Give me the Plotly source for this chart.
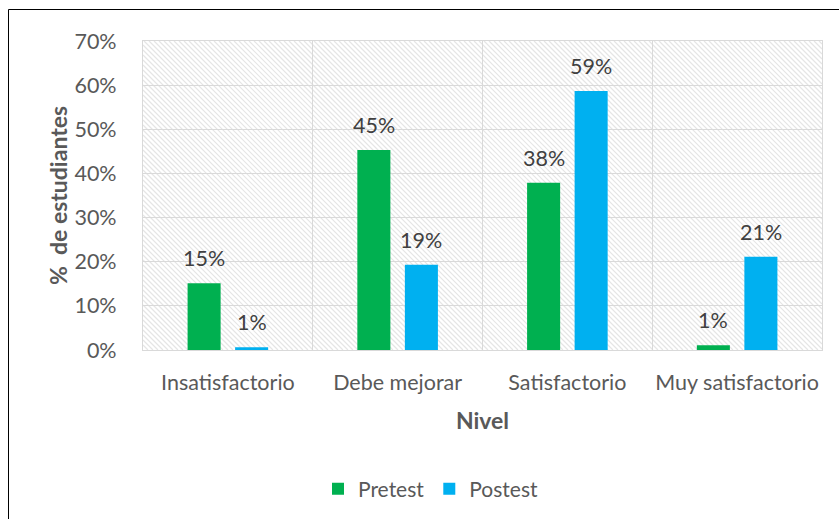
import plotly.graph_objects as go

categories = ["Insatisfactorio", "Debe mejorar", "Satisfactorio", "Muy satisfactorio"]
pretest = [15.1, 45.3, 37.9, 1.1]
postest = [0.6, 19.3, 58.7, 21.1]
series_names = ["Pretest", "Postest"]
series_colors = ["#00B050", "#00B0F0"]
y_ticks = [0, 10, 20, 30, 40, 50, 60, 70]
y_tick_labels = ["0%", "10%", "20%", "30%", "40%", "50%", "60%", "70%"]

FIG_W, FIG_H = 839, 519
ML, MR, MT, MB = 143, 17, 41, 169
PW = FIG_W - ML - MR
PH = FIG_H - MT - MB

FONT = "Lato"
TICK_COLOR = "#595959"
LABEL_COLOR = "#404040"

fig = go.Figure()
for name, vals, col in zip(series_names, [pretest, postest], series_colors):
    fig.add_trace(go.Bar(x=categories, y=vals, name=name, marker_color=col,
                         marker_line_width=0, hoverinfo="x+y"))

# data labels
offset_px = 23.77
for k, vals in enumerate([pretest, postest]):
    sh = -offset_px if k == 0 else offset_px
    for c, v in zip(categories, vals):
        fig.add_annotation(x=c, y=v, text=f"{round(v)}%", showarrow=False,
                           xshift=sh, yshift=25, yanchor="middle",
                           font=dict(family=FONT, size=21.5, color=LABEL_COLOR))

# hatched background (decorative diagonal lines)
step = 5
segs = []
c = -PH
while c <= PW:
    y0 = max(0, -c)
    y1 = min(PH, PW - c)
    if y1 > y0:
        x0 = c + y0
        x1 = c + y1
        segs.append(f"M{x0/PW:.5f},{1 - y0/PH:.5f}L{x1/PW:.5f},{1 - y1/PH:.5f}")
    c += step
fig.add_shape(type="path", xref="paper", yref="paper", path="".join(segs),
              line=dict(color="#e5e5e5", width=1.2), layer="below")

# outer chart border
fig.add_shape(type="rect", xref="paper", yref="paper",
              x0=(8.5 - ML) / PW, x1=(FIG_W + 6 - ML) / PW,
              y0=(PH + MT - (FIG_H + 6)) / PH, y1=(PH + MT - 9.5) / PH,
              line=dict(color="#000000", width=1), fillcolor="rgba(0,0,0,0)", layer="above")

fig.update_layout(
    width=FIG_W, height=FIG_H,
    margin=dict(l=ML, r=MR, t=MT, b=MB, autoexpand=False),
    paper_bgcolor="white", plot_bgcolor="white",
    barmode="group", bargap=0.44, bargroupgap=0.305,
    font=dict(family=FONT, size=21, color=TICK_COLOR),
    legend=dict(orientation="h", x=(431 - ML) / PW, xanchor="center",
                y=(PH + MT - 489) / PH, yanchor="middle",
                font=dict(family=FONT, size=21, color=TICK_COLOR),
                itemclick=False, itemdoubleclick=False),
    showlegend=True,
)
fig.update_xaxes(
    type="category", tickson="boundaries", ticks="", showgrid=True,
    gridcolor="#d9d9d9", gridwidth=1.2, showline=True, linecolor="#d9d9d9",
    linewidth=1.2, mirror=True, ticklabelstandoff=13, tickangle=0, automargin=False,
    tickfont=dict(family=FONT, size=21.5, color=TICK_COLOR),
    title=dict(text="<b>Nivel</b>", standoff=18,
               font=dict(family=FONT, size=23, color=TICK_COLOR)),
)
fig.update_yaxes(
    range=[0, 70], tickvals=y_ticks, ticktext=y_tick_labels, ticks="", showgrid=True,
    gridcolor="#d9d9d9", gridwidth=1.2, showline=True, linecolor="#d9d9d9",
    linewidth=1.2, mirror=True, zeroline=False, ticklabelstandoff=21, automargin=False,
    tickfont=dict(family=FONT, size=21.5, color=TICK_COLOR),
    title=dict(text="<b>%  de estudiantes</b>", standoff=0,
               font=dict(family=FONT, size=23, color=TICK_COLOR)),
)

fig.write_html("out.html", config={"displayModeBar": False},
               post_script="document.body.style.margin='0';")
